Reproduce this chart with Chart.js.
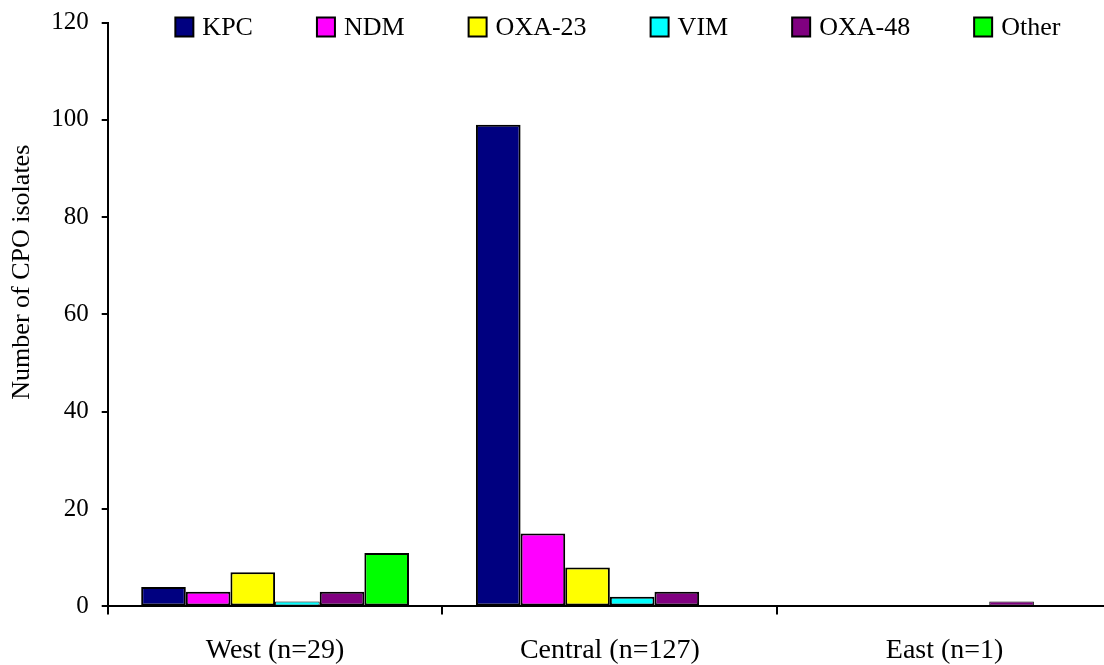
<!DOCTYPE html>
<html>
<head>
<meta charset="utf-8">
<title>CPO isolates by region</title>
<script src="https://cdn.jsdelivr.net/npm/chart.js@4.4.1/dist/chart.umd.min.js"></script>
<style>
    html, body { margin: 0; padding: 0; background: #fff; overflow: hidden; }
    #wrap { width: 1112px; height: 665px; }
</style>
</head>
<body>
<div id="wrap"><canvas id="cpoChart" width="1112" height="665"></canvas></div>
<script>
    // Regions (categories)
    const regions = ['West (n=29)', 'Central (n=127)', 'East (n=1)'];

    // Number of isolates per carbapenemase type, per region
    const kpc = [4, 99, 0];
    const ndm = [3, 15, 0];
    const oxa23 = [7, 8, 0];
    const vim = [1, 2, 0];
    const oxa48 = [3, 3, 1];
    const other = [11, 0, 0];

    const yMax = 120;
    const yStep = 20;

    const serif = 'Liberation Serif';

    function makeSet(label, data, color) {
        return {
            label: label,
            data: data,
            backgroundColor: color,
            borderColor: '#000',
            // zero-height bars are not outlined; very short ones get a thinner edge so the fill still shows
            borderWidth: (ctx) => (ctx.raw === 0 ? 0 : ctx.raw === 1 ? 1 : 2),
            borderSkipped: false,
            categoryPercentage: 0.8,
            barPercentage: 1.0
        };
    }

    // Legend drawn in one row inside the top of the plot area, like the original
    const insideLegend = {
        id: 'insideLegend',
        afterDraw(chart) {
            const ctx = chart.ctx;
            const area = chart.chartArea;
            const boxW = 18, boxH = 19, gap = 9, spacing = 64;
            ctx.save();
            ctx.font = '26px "' + serif + '"';
            const items = chart.data.datasets.map((ds) => ({
                label: ds.label,
                color: ds.backgroundColor,
                w: ctx.measureText(ds.label).width
            }));
            const total = items.reduce((s, it) => s + boxW + gap + it.w, 0) + spacing * (items.length - 1);
            let x = (area.left + area.right) / 2 + 8 - total / 2;
            const boxTop = area.top - 5;
            items.forEach((it) => {
                ctx.fillStyle = it.color;
                ctx.fillRect(x, boxTop, boxW, boxH);
                ctx.lineWidth = 2;
                ctx.strokeStyle = '#000';
                ctx.strokeRect(x, boxTop, boxW, boxH);
                ctx.fillStyle = '#000';
                ctx.textBaseline = 'alphabetic';
                ctx.textAlign = 'left';
                ctx.fillText(it.label, x + boxW + gap, boxTop + 17);
                x += boxW + gap + it.w + spacing;
            });
            ctx.restore();
        }
    };

    new Chart(document.getElementById('cpoChart').getContext('2d'), {
        type: 'bar',
        data: {
            labels: regions,
            datasets: [
                makeSet('KPC', kpc, '#000080'),
                makeSet('NDM', ndm, '#FF00FF'),
                makeSet('OXA-23', oxa23, '#FFFF00'),
                makeSet('VIM', vim, '#00FFFF'),
                makeSet('OXA-48', oxa48, '#800080'),
                makeSet('Other', other, '#00FF00')
            ]
        },
        options: {
            responsive: false,
            animation: false,
            devicePixelRatio: 1,
            // the category labels reserve padding on both sides; pull the bottom back in
            layout: { padding: { top: 21, left: 0, right: 0, bottom: -21 } },
            plugins: {
                tooltip: { enabled: false },
                legend: { display: false }
            },
            scales: {
                x: {
                    grid: {
                        offset: true,
                        drawOnChartArea: false,
                        color: '#000',
                        lineWidth: 2,
                        tickLength: 8
                    },
                    border: { color: '#000', width: 2 },
                    ticks: {
                        color: '#000',
                        font: { family: serif, size: 28 },
                        padding: 19,
                        maxRotation: 0
                    }
                },
                y: {
                    min: 0,
                    max: yMax,
                    grid: {
                        drawOnChartArea: false,
                        color: '#000',
                        lineWidth: 2,
                        tickLength: 6
                    },
                    border: { color: '#000', width: 2 },
                    ticks: {
                        stepSize: yStep,
                        color: '#000',
                        font: { family: serif, size: 25, lineHeight: 0.76 },
                        padding: 13
                    },
                    title: {
                        display: true,
                        // leading spaces lift the label the way the original sits above centre
                        text: '\u00A0'.repeat(13) + 'Number of CPO isolates',
                        color: '#000',
                        font: { family: serif, size: 26 },
                        padding: { top: 7, bottom: 0 }
                    }
                }
            }
        },
        plugins: [insideLegend]
    });
</script>
</body>
</html>
